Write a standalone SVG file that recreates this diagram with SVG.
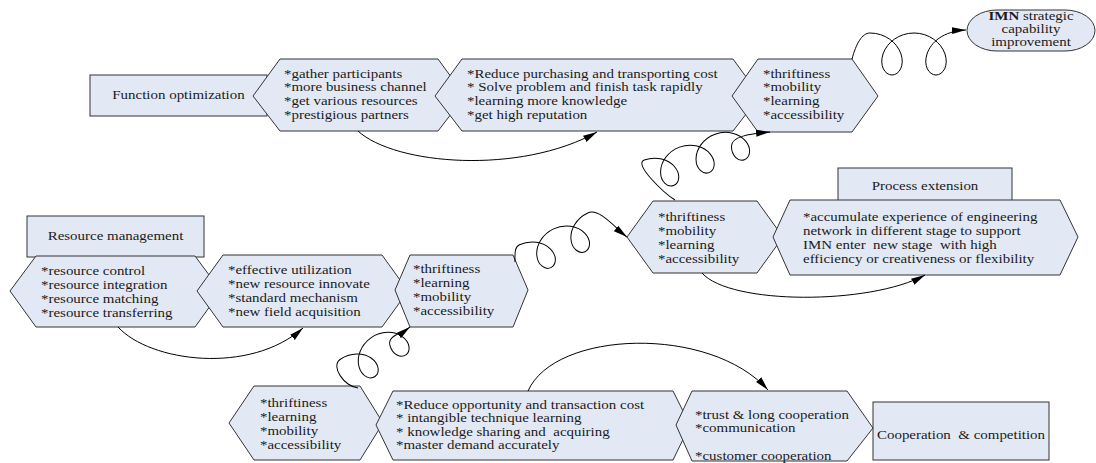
<svg xmlns="http://www.w3.org/2000/svg" width="1096" height="463" viewBox="0 0 1096 463">
<defs>
<marker id="ah" viewBox="0 0 14 8" refX="14" refY="4" markerWidth="14" markerHeight="8" markerUnits="userSpaceOnUse" orient="auto"><path d="M0,0.5 L14,4 L0,7.5 Z" fill="#000"/></marker>
</defs>
<style>
.n{fill:#E3E9F4;stroke:#333;stroke-width:1}
.t{font-family:"Liberation Serif","Times New Roman",serif;font-size:11.5px;fill:#1a1a1a}
.c{text-anchor:middle}
.k{fill:none;stroke:#000;stroke-width:1;marker-end:url(#ah)}
</style>
<rect width="1096" height="463" fill="#fff"/>

<g id="function-optimization">
<rect class="n" x="90" y="75" width="177" height="41"/>
<text class="t c" transform="translate(178.5,99) scale(1.3,1)">Function optimization</text>
</g>
<g id="fo-benefits">
<polygon class="n" points="253,96 280,59 438,59 465,96 438,131 280,131"/>
<text class="t" transform="translate(284,77.5) scale(1.3,1)"><tspan x="0" y="0">*gather participants</tspan><tspan x="0" y="14">*more business channel</tspan><tspan x="0" y="28">*get various resources</tspan><tspan x="0" y="42">*prestigious partners</tspan></text>
</g>
<g id="fo-results">
<polygon class="n" points="435,96 462,59 733,59 760,96 733,131 462,131"/>
<text class="t" transform="translate(467,77.5) scale(1.3,1)"><tspan x="0" y="0">*Reduce purchasing and transporting cost</tspan><tspan x="0" y="14">* Solve problem and finish task rapidly</tspan><tspan x="0" y="28">*learning more knowledge</tspan><tspan x="0" y="42">*get high reputation</tspan></text>
</g>
<g id="fo-capabilities">
<polygon class="n" points="732,96 758,59 852,59 878,96 852,132 758,132"/>
<text class="t" transform="translate(763,77.5) scale(1.3,1)"><tspan x="0" y="0">*thriftiness</tspan><tspan x="0" y="14">*mobility</tspan><tspan x="0" y="28">*learning</tspan><tspan x="0" y="42">*accessibility</tspan></text>
</g>
<g id="imn-improvement">
<rect class="n" x="967" y="10" width="128" height="41" rx="30" ry="20.5"/>
<text class="t c" transform="translate(1031,20) scale(1.3,1)"><tspan x="0" y="0"><tspan font-weight="bold">IMN</tspan> strategic</tspan><tspan x="0" y="13">capability</tspan><tspan x="0" y="26">improvement</tspan></text>
</g>

<g id="process-extension">
<rect class="n" x="838" y="168" width="174" height="40"/>
<text class="t c" transform="translate(925,190) scale(1.3,1)">Process extension</text>
</g>
<g id="pe-capabilities">
<polygon class="n" points="627,237 653,201 757,201 783,237 757,273 653,273"/>
<text class="t" transform="translate(658,221) scale(1.3,1)"><tspan x="0" y="0">*thriftiness</tspan><tspan x="0" y="14">*mobility</tspan><tspan x="0" y="28">*learning</tspan><tspan x="0" y="42">*accessibility</tspan></text>
</g>
<g id="pe-results">
<polygon class="n" points="773,237 790,200 1060,200 1078,237 1060,275 790,275"/>
<text class="t" xml:space="preserve" transform="translate(803,221) scale(1.3,1)"><tspan x="0" y="0">*accumulate experience of engineering</tspan><tspan x="0" y="14">network in different stage to support</tspan><tspan x="0" y="28">IMN enter  new stage  with high</tspan><tspan x="0" y="42">efficiency or creativeness or flexibility</tspan></text>
</g>

<g id="resource-management">
<rect class="n" x="27" y="216" width="177" height="41"/>
<text class="t c" transform="translate(115.5,240) scale(1.3,1)">Resource management</text>
</g>
<g id="rm-actions">
<polygon class="n" points="10,291 36,256 195,256 221,291 195,327 36,327"/>
<text class="t" transform="translate(41,275) scale(1.3,1)"><tspan x="0" y="0">*resource control</tspan><tspan x="0" y="14">*resource integration</tspan><tspan x="0" y="28">*resource matching</tspan><tspan x="0" y="42">*resource transferring</tspan></text>
</g>
<g id="rm-results">
<polygon class="n" points="197,291 223,255 382,255 408,291 382,327 223,327"/>
<text class="t" transform="translate(228,274) scale(1.3,1)"><tspan x="0" y="0">*effective utilization</tspan><tspan x="0" y="14">*new resource innovate</tspan><tspan x="0" y="28">*standard mechanism</tspan><tspan x="0" y="42">*new field acquisition</tspan></text>
</g>
<g id="rm-capabilities">
<polygon class="n" points="395,290 410,255 513,255 528,290 513,327 410,327"/>
<text class="t" transform="translate(413,273) scale(1.3,1)"><tspan x="0" y="0">*thriftiness</tspan><tspan x="0" y="14">*learning</tspan><tspan x="0" y="28">*mobility</tspan><tspan x="0" y="42">*accessibility</tspan></text>
</g>

<g id="cc-capabilities">
<polygon class="n" points="229,423 254,386 360,386 383,423 360,460 254,460"/>
<text class="t" transform="translate(260,407) scale(1.3,1)"><tspan x="0" y="0">*thriftiness</tspan><tspan x="0" y="14">*learning</tspan><tspan x="0" y="28">*mobility</tspan><tspan x="0" y="42">*accessibility</tspan></text>
</g>
<g id="cc-results">
<polygon class="n" points="376,425 393,391 673,391 690,425 673,460 393,460"/>
<text class="t" xml:space="preserve" transform="translate(396,409) scale(1.3,1)"><tspan x="0" y="0">*Reduce opportunity and transaction cost</tspan><tspan x="0" y="13.5">* intangible technique learning</tspan><tspan x="0" y="27">* knowledge sharing and  acquiring</tspan><tspan x="0" y="40.5">*master demand accurately</tspan></text>
</g>
<g id="cc-actions">
<polygon class="n" points="676,425 692,391 847,391 873,428 847,461 692,461"/>
<text class="t" transform="translate(695,418.5) scale(1.3,1)"><tspan x="0" y="0">*trust &amp; long cooperation</tspan><tspan x="0" y="14">*communication</tspan><tspan x="0" y="42">*customer cooperation</tspan></text>
</g>
<g id="cooperation-competition">
<rect class="n" x="873" y="402" width="176" height="58"/>
<text class="t c" xml:space="preserve" transform="translate(961,439) scale(1.3,1)">Cooperation  &amp; competition</text>
</g>

<g id="connectors">
<path class="k" d="M358,131 C395,165 520,175 597,132"/>
<path class="k" d="M702,273 C730,305 870,305 925,275"/>
<path class="k" d="M118,327 C150,362 250,375 303,328"/>
<path class="k" d="M528,391 C555,330 710,325 768,390"/>
<path class="k" d="M852,59 C856,44 862,33 870,33 c 14.85,0 27.15,9.45 31,21 c 3.85,11.55 -1.85,21 -9,21 c -7.15,0 -12.85,-9.45 -9,-21 c 3.85,-11.55 16.15,-21 31,-21 c 14.85,0 27.15,9.45 31,21 c 3.85,11.55 -1.85,21 -9,21 c -7.15,0 -12.85,-9.45 -9,-21 C930.85,42.45 943,31 966,30"/>
<path class="k" transform="translate(650,176) rotate(-20)" d="M15.3,31.1 C8,22 -12,-17 0,-17 c 12.65,0 23.12,7.65 26.42,17 c 3.3,9.35 -1.52,17 -7.57,17 c -6.05,0 -10.88,-7.65 -7.58,-17 c 3.3,-9.35 13.78,-17 26.43,-17 c 12.65,0 23.12,7.65 26.42,17 c 3.3,9.35 -1.52,17 -7.57,17 c -6.05,0 -10.88,-7.65 -7.58,-17 c 3.3,-9.35 13.78,-17 26.43,-17 c 12.65,0 23.12,7.65 26.42,17 c 3.3,9.35 -1.52,17 -7.57,17 c -6.05,0 -10.88,-7.65 -7.58,-17 C89.97,-9.35 108,-5.6 127.9,-0.3"/>
<path class="k" transform="translate(526.6,260.2) rotate(-25)" d="M-11.3,-3.3 C-8,-10 -6,-17 0,-17 c 12.65,0 23.12,7.65 26.42,17 c 3.3,9.35 -1.52,17 -7.57,17 c -6.05,0 -10.88,-7.65 -7.58,-17 c 3.3,-9.35 13.78,-17 26.43,-17 c 12.65,0 23.12,7.65 26.42,17 c 3.3,9.35 -1.52,17 -7.57,17 c -6.05,0 -10.88,-7.65 -7.58,-17 c 3.3,-9.35 13.78,-17 26.43,-17 C88,-17 94,8 100.8,21.5"/>
<path class="k" transform="translate(349.8,373.4) rotate(-35)" d="M-1.66,16.67 C-12,8 -12,-17 0,-17 c 12.65,0 23.12,7.65 26.42,17 c 3.3,9.35 -1.52,17 -7.57,17 c -6.05,0 -10.88,-7.65 -7.58,-17 c 3.3,-9.35 13.78,-17 26.43,-17 c 12.65,0 23.12,7.65 26.42,17 c 3.3,9.35 -1.52,17 -7.57,17 c -6.05,0 -10.88,-7.65 -7.58,-17 C52.27,-9.35 65,-3 75.9,-3.45"/>
</g>
</svg>
